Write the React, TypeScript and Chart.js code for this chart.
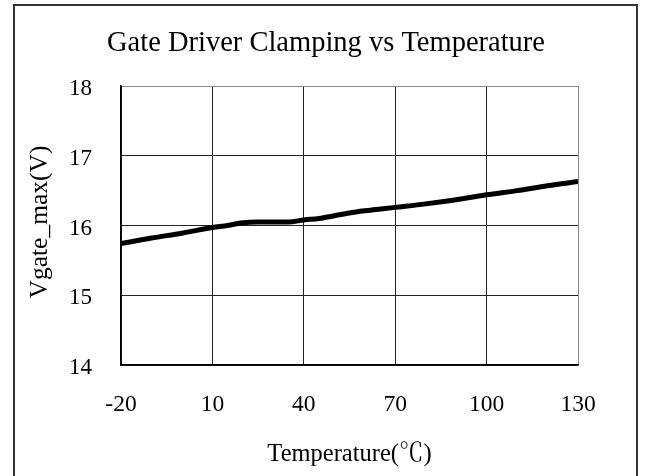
import React, { useEffect, useRef } from "react";
import { Chart, registerables } from "chart.js";

Chart.register(...registerables);

const chartTitle = "Gate Driver Clamping vs Temperature";
const xAxisTitle = "Temperature(℃)";
const yAxisTitle = "Vgate_max(V)";

const temperatures = [-20, -10, 0, 10, 15, 20, 25, 30, 35, 40, 45, 50, 55, 60, 70, 80, 90, 100, 110, 120, 130];
const vgateMax = [15.74, 15.82, 15.89, 15.97, 16.0, 16.04, 16.05, 16.05, 16.05, 16.08, 16.1, 16.14, 16.18, 16.21, 16.26, 16.31, 16.37, 16.44, 16.5, 16.57, 16.63];

const xTicks = [-20, 10, 40, 70, 100, 130];
const yTicks = [14, 15, 16, 17, 18];

const SERIF = "'Liberation Serif', 'Times New Roman', 'Noto Serif CJK SC', 'Noto Sans CJK SC', serif";

const decorPlugin = {
  id: "decor",
  beforeDraw(chart: any) {
    const ctx = chart.ctx;
    ctx.save();
    ctx.fillStyle = "#fff";
    ctx.fillRect(0, 0, chart.width, chart.height);
    ctx.strokeStyle = "#333";
    ctx.lineWidth = 2;
    ctx.strokeRect(14, 5, 623, 480);
    ctx.restore();
  },
  afterDraw(chart: any) {
    const ctx = chart.ctx;
    const area = chart.chartArea;
    ctx.save();
    ctx.fillStyle = "#000";
    ctx.textAlign = "center";
    ctx.textBaseline = "alphabetic";
    ctx.font = `28.5px ${SERIF}`;
    ctx.fillText(chartTitle, 326, 51);
    ctx.font = `24.5px ${SERIF}`;
    ctx.fillText(xAxisTitle, (area.left + area.right) / 2, 461);
    ctx.font = `25.5px ${SERIF}`;
    ctx.translate(47, 222);
    ctx.rotate(-Math.PI / 2);
    ctx.fillText(yAxisTitle, 0, 0);
    ctx.restore();
  },
};

export default function App() {
  const ref = useRef<HTMLCanvasElement>(null);
  useEffect(() => {
    const canvas = ref.current!;
    const chart = new Chart(canvas, {
      type: "line",
      data: {
        datasets: [
          {
            data: temperatures.map((t, i) => ({ x: t, y: vgateMax[i] })),
            borderColor: "#000",
            borderWidth: 5,
            pointRadius: 0,
            cubicInterpolationMode: "monotone",
            fill: false,
          },
        ],
      },
      options: {
        animation: false,
        responsive: false,
        maintainAspectRatio: false,
        layout: { padding: { left: 0, right: 72, top: 86, bottom: 0 } },
        plugins: { legend: { display: false }, title: { display: false }, tooltip: { enabled: false } },
        scales: {
          x: {
            type: "linear",
            min: -20,
            max: 130,
            afterBuildTicks: (axis: any) => {
              axis.ticks = xTicks.map((v) => ({ value: v }));
            },
            afterFit: (axis: any) => {
              axis.height = 111;
            },
            ticks: { color: "#000", font: { size: 23.5, family: SERIF }, padding: 26, maxRotation: 0 },
            grid: {
              drawTicks: false,
              color: (c: any) => (c.tick && c.tick.value === 130 ? "#888" : "#222"),
              lineWidth: 1,
            },
            border: { color: "#000", width: 1.5 },
          },
          y: {
            type: "linear",
            min: 14,
            max: 18,
            afterBuildTicks: (axis: any) => {
              axis.ticks = yTicks.map((v) => ({ value: v }));
            },
            afterFit: (axis: any) => {
              axis.width = 121;
            },
            ticks: { color: "#000", font: { size: 23, family: SERIF }, padding: 29, labelOffset: 3 },
            grid: {
              drawTicks: false,
              color: (c: any) => (c.tick && c.tick.value === 18 ? "#888" : "#222"),
              lineWidth: 1,
            },
            border: { color: "#000", width: 1.5 },
          },
        },
      },
      plugins: [decorPlugin],
    } as any);
    return () => chart.destroy();
  }, []);
  return (
    <div style={{ position: "fixed", left: 0, top: 0, width: 650, height: 476, background: "#fff" }}>
      <canvas ref={ref} width={650} height={476} style={{ width: 650, height: 476, display: "block" }} />
    </div>
  );
}
